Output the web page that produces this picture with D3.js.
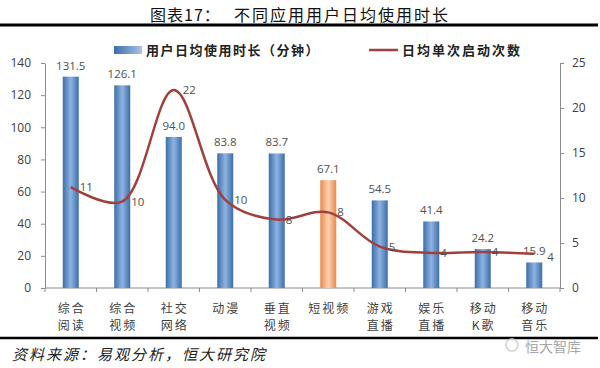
<!DOCTYPE html>
<html>
<head>
<meta charset="utf-8">
<script src="https://cdn.jsdelivr.net/npm/d3@7"></script>
<style>
  body { margin: 0; background: #fff; }
  svg { display: block; font-family: "Noto Sans CJK SC", "DejaVu Sans", sans-serif; }
</style>
</head>
<body>
<div class="graph"></div>
<script>
// data
const categories = [["综合","阅读"],["综合","视频"],["社交","网络"],["动漫"],["垂直","视频"],["短视频"],["游戏","直播"],["娱乐","直播"],["移动","K歌"],["移动","音乐"]];
const minutes = [131.5, 126.1, 94.0, 83.8, 83.7, 67.1, 54.5, 41.4, 24.2, 15.9];
const launches = [11.2, 9.6, 22, 9.8, 7.6, 8.4, 4.6, 3.9, 4.0, 3.8];
const leftTicks = [0, 20, 40, 60, 80, 100, 120, 140];
const rightTicks = [0, 5, 10, 15, 20, 25];
const highlight = 5;

//dimensions
const SIZE = {X: 600, Y: 368};
const PLOT = {LEFT: 45, RIGHT: 560, TOP: 63, BOTTOM: 288};

const svg = d3.select(".graph").append("svg")
    .attr("width", SIZE.X)
    .attr("height", SIZE.Y);

//gradients for the bars
const defs = svg.append("defs");
function barGradient(id, dark, light) {
    const g = defs.append("linearGradient").attr("id", id)
        .attr("x1", "0%").attr("x2", "100%").attr("y1", "0%").attr("y2", "0%");
    g.append("stop").attr("offset", "0%").attr("stop-color", dark);
    g.append("stop").attr("offset", "50%").attr("stop-color", light);
    g.append("stop").attr("offset", "100%").attr("stop-color", dark);
}
barGradient("blue", "#3b6eaa", "#8fb3e0");
barGradient("orange", "#e98a4a", "#fcd2b4");
const legGrad = defs.append("linearGradient").attr("id", "legblue")
    .attr("x1", "0%").attr("x2", "100%");
legGrad.append("stop").attr("offset", "0%").attr("stop-color", "#3b6eaa");
legGrad.append("stop").attr("offset", "100%").attr("stop-color", "#a9c3e6");

//title and rules
const title = svg.append("g").style("font-size", "16px").style("fill", "#111");
title.append("text").attr("x", 150).attr("y", 21).style("letter-spacing", "1px").text("图表17：");
title.append("text").attr("x", 234).attr("y", 21).style("letter-spacing", "2px").text("不同应用用户日均使用时长");
svg.append("line").attr("x1", 0).attr("x2", 598).attr("y1", 25).attr("y2", 25)
    .style("stroke", "#000").style("stroke-width", 3);
svg.append("line").attr("x1", 0).attr("x2", 598).attr("y1", 338).attr("y2", 338)
    .style("stroke", "#000").style("stroke-width", 2.5);

//scales
const x = d3.scaleBand()
    .domain(d3.range(categories.length))
    .range([PLOT.LEFT, PLOT.RIGHT]);
const yL = d3.scaleLinear().domain([0, 140]).range([PLOT.BOTTOM, PLOT.TOP]);
const yR = d3.scaleLinear().domain([0, 25]).range([PLOT.BOTTOM, PLOT.TOP]);

//axes
const axisColor = "#8c8c8c";
function styleAxis(g) {
    g.selectAll("path, line").style("stroke", axisColor);
    g.selectAll("text").style("fill", "#404040").style("font-size", "12px")
        .style("font-family", "'Open Sans', 'DejaVu Sans', sans-serif");
}
svg.append("g")
    .attr("transform", `translate(${PLOT.LEFT},0)`)
    .call(d3.axisLeft(yL).tickValues(leftTicks).tickSize(4).tickSizeOuter(0).tickPadding(10))
    .call(styleAxis);
svg.append("g")
    .attr("transform", `translate(${PLOT.RIGHT},0)`)
    .call(d3.axisRight(yR).tickValues(rightTicks).tickSize(4).tickSizeOuter(0).tickPadding(8))
    .call(styleAxis);

//x axis line with ticks between categories
const xAxis = svg.append("g");
xAxis.append("line")
    .attr("x1", PLOT.LEFT).attr("x2", PLOT.RIGHT)
    .attr("y1", PLOT.BOTTOM).attr("y2", PLOT.BOTTOM)
    .style("stroke", axisColor);
xAxis.selectAll(".xt")
    .data(d3.range(categories.length + 1))
    .enter().append("line")
    .attr("x1", i => PLOT.LEFT + i * x.step())
    .attr("x2", i => PLOT.LEFT + i * x.step())
    .attr("y1", PLOT.BOTTOM).attr("y2", PLOT.BOTTOM + 4)
    .style("stroke", axisColor);

//category labels (two rows)
const catG = svg.append("g");
categories.forEach((lines, i) => {
    lines.forEach((t, j) => {
        catG.append("text")
            .attr("x", x(i) + x.bandwidth() / 2 + 1)
            .attr("y", 313 + j * 17)
            .attr("text-anchor", "middle")
            .style("font-size", "12px")
            .style("letter-spacing", "2px")
            .style("fill", "#404040")
            .text(t);
    });
});

//bars
const barW = 16;
svg.append("g").selectAll("rect")
    .data(minutes)
    .enter().append("rect")
    .attr("x", (d, i) => x(i) + x.bandwidth() / 2 - barW / 2)
    .attr("y", d => yL(d))
    .attr("width", barW)
    .attr("height", d => yL(0) - yL(d))
    .style("fill", (d, i) => i === highlight ? "url(#orange)" : "url(#blue)");

svg.append("g").selectAll("text")
    .data(minutes)
    .enter().append("text")
    .attr("x", (d, i) => x(i) + x.bandwidth() / 2)
    .attr("y", d => yL(d) - 7)
    .attr("text-anchor", "middle")
    .style("font-size", "11.5px")
    .style("font-family", "'Open Sans', 'DejaVu Sans', sans-serif")
    .style("fill", "#505050")
    .text(d => d.toFixed(1));

//smoothed line on right axis
const line = d3.line()
    .x((d, i) => x(i) + x.bandwidth() / 2)
    .y(d => yR(d))
    .curve(d3.curveCatmullRom.alpha(0.5));
svg.append("path")
    .datum(launches)
    .attr("d", line)
    .style("fill", "none")
    .style("stroke", "#a0403d")
    .style("stroke-width", 2.5);

svg.append("g").selectAll("text")
    .data(launches)
    .enter().append("text")
    .attr("x", (d, i) => x(i) + x.bandwidth() / 2 + (i === launches.length - 1 ? 13 : 9))
    .attr("y", (d, i) => yR(d) + (i === launches.length - 1 ? 7 : 4))
    .style("font-size", "11.5px")
    .style("font-family", "'Open Sans', 'DejaVu Sans', sans-serif")
    .style("fill", "#505050")
    .text(d => d3.format(".0f")(d));

//legend
const leg = svg.append("g").style("font-size", "13px").style("font-weight", "bold").style("fill", "#222");
leg.append("rect").attr("x", 114).attr("y", 46).attr("width", 28).attr("height", 8).style("fill", "url(#legblue)");
leg.append("text").attr("x", 146).attr("y", 55).style("letter-spacing", "1.5px").text("用户日均使用时长（分钟）");
leg.append("line").attr("x1", 369).attr("x2", 398).attr("y1", 50).attr("y2", 50)
    .style("stroke", "#a0403d").style("stroke-width", 2.5);
leg.append("text").attr("x", 402).attr("y", 55).style("letter-spacing", "2px").text("日均单次启动次数");

//source note and watermark
svg.append("text")
    .attr("x", 12).attr("y", 360)
    .style("font-size", "15px")
    .style("letter-spacing", "2px")
    .style("font-style", "italic")
    .style("fill", "#222")
    .text("资料来源：易观分析，恒大研究院");
svg.append("circle").attr("cx", 512).attr("cy", 345).attr("r", 6)
    .style("fill", "none").style("stroke", "#cfcfcf").style("stroke-width", 1.5);
svg.append("text")
    .attr("x", 525).attr("y", 352)
    .style("font-size", "14px")
    .style("fill", "#a8a8a8")
    .text("恒大智库");
</script>
</body>
</html>
